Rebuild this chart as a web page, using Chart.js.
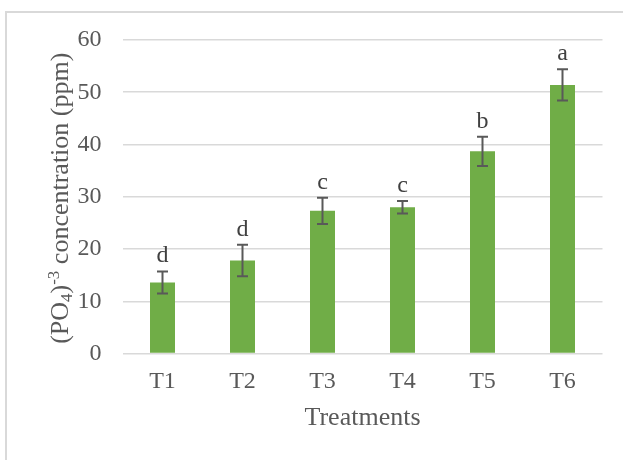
<!DOCTYPE html>
<html>
<head>
<meta charset="utf-8">
<script src="https://cdn.jsdelivr.net/npm/chart.js@4.4.0/dist/chart.umd.min.js"></script>
<style>
  html, body { margin: 0; padding: 0; background: #ffffff; }
  #wrap { position: relative; width: 623px; height: 460px; }
  canvas { display: block; }
</style>
</head>
<body>
<div id="wrap"><canvas id="chart" width="623" height="460"></canvas></div>
<script>
// Phosphate concentration per treatment, with standard error and significance group
const treatments = ['T1', 'T2', 'T3', 'T4', 'T5', 'T6'];
const concentration = [13.6, 17.8, 27.3, 28.0, 38.7, 51.4];
const errors = [2.1, 3.0, 2.5, 1.2, 2.8, 3.0];
const groupLetters = ['d', 'd', 'c', 'c', 'b', 'a'];
const yTicks = [0, 10, 20, 30, 40, 50, 60];

// Y-axis title pieces: normal text, subscript and superscript runs
const yTitleParts = [
  { text: '(PO', kind: 'normal' },
  { text: '4', kind: 'sub' },
  { text: ')', kind: 'normal' },
  { text: '-3', kind: 'sup' },
  { text: ' concentration (ppm)', kind: 'normal' }
];
const xTitle = 'Treatments';

const SERIF = '"Liberation Serif", "Times New Roman", serif';
const TEXT_GREY = '#595959';
const BAR_GREEN = '#70ad47';
const GRID_GREY = '#d9d9d9';

// White background and the light outer frame
const framePlugin = {
  id: 'frame',
  beforeDraw(chart) {
    const { ctx, width, height } = chart;
    ctx.save();
    ctx.fillStyle = '#ffffff';
    ctx.fillRect(0, 0, width, height);
    ctx.strokeStyle = GRID_GREY;
    ctx.lineWidth = 2;
    ctx.beginPath();
    ctx.moveTo(6, height);
    ctx.lineTo(6, 12);
    ctx.lineTo(width, 12);
    ctx.stroke();
    ctx.restore();
  }
};

// Error bars with caps, and the group letter above each one
const errorBarPlugin = {
  id: 'errorBars',
  afterDatasetsDraw(chart) {
    const { ctx } = chart;
    const y = chart.scales.y;
    const meta = chart.getDatasetMeta(0);
    const cap = 5.5;
    ctx.save();
    ctx.strokeStyle = TEXT_GREY;
    ctx.lineWidth = 2;
    ctx.fillStyle = '#404040';
    ctx.font = '24px ' + SERIF;
    ctx.textAlign = 'center';
    ctx.textBaseline = 'alphabetic';
    meta.data.forEach((bar, i) => {
      const cx = bar.x;
      const yHi = y.getPixelForValue(concentration[i] + errors[i]);
      const yLo = y.getPixelForValue(concentration[i] - errors[i]);
      ctx.beginPath();
      ctx.moveTo(cx, yHi);
      ctx.lineTo(cx, yLo);
      ctx.moveTo(cx - cap, yHi);
      ctx.lineTo(cx + cap, yHi);
      ctx.moveTo(cx - cap, yLo);
      ctx.lineTo(cx + cap, yLo);
      ctx.stroke();
      ctx.fillText(groupLetters[i], cx, yHi - 9);
    });
    ctx.restore();
  }
};

// Rotated y-axis title with subscript and superscript runs
const yTitlePlugin = {
  id: 'yTitle',
  afterDraw(chart) {
    const { ctx, chartArea } = chart;
    const size = 26;
    const small = Math.round(size * 0.65);
    const fontFor = (kind) => (kind === 'normal' ? size : small) + 'px ' + SERIF;
    const shiftFor = (kind) => (kind === 'sub' ? size * 0.14 : kind === 'sup' ? -size * 0.36 : 0);
    ctx.save();
    let total = 0;
    const widths = yTitleParts.map(p => {
      ctx.font = fontFor(p.kind);
      const w = ctx.measureText(p.text).width;
      total += w;
      return w;
    });
    const cy = (chartArea.top + chartArea.bottom) / 2 + 1.5;
    ctx.translate(68, cy);
    ctx.rotate(-Math.PI / 2);
    ctx.fillStyle = TEXT_GREY;
    ctx.textAlign = 'left';
    ctx.textBaseline = 'alphabetic';
    let x = -total / 2;
    yTitleParts.forEach((p, i) => {
      ctx.font = fontFor(p.kind);
      ctx.fillText(p.text, x, shiftFor(p.kind));
      x += widths[i];
    });
    ctx.restore();
  }
};

new Chart(document.getElementById('chart'), {
  type: 'bar',
  data: {
    labels: treatments,
    datasets: [{
      data: concentration,
      backgroundColor: BAR_GREEN,
      borderWidth: 0,
      categoryPercentage: 1,
      barPercentage: 0.3125
    }]
  },
  options: {
    responsive: false,
    animation: false,
    devicePixelRatio: 1,
    layout: { padding: { top: 40, right: 20.5, bottom: 0, left: 0 } },
    plugins: {
      legend: { display: false },
      tooltip: { enabled: false }
    },
    scales: {
      x: {
        grid: { display: false, drawTicks: false },
        border: { display: false },
        ticks: {
          color: TEXT_GREY,
          font: { family: SERIF, size: 24 },
          padding: 14,
          maxRotation: 0
        },
        title: {
          display: true,
          text: xTitle,
          color: TEXT_GREY,
          font: { family: SERIF, size: 26 },
          padding: { top: 0, bottom: 26 }
        },
        afterFit(scale) { scale.height = 106.5; }
      },
      y: {
        min: 0,
        max: 60,
        grid: { color: GRID_GREY, lineWidth: 1.5, drawTicks: false },
        border: { display: false },
        ticks: {
          color: TEXT_GREY,
          font: { family: SERIF, size: 24 },
          padding: 21
        },
        afterBuildTicks(scale) { scale.ticks = yTicks.map(v => ({ value: v })); },
        afterFit(scale) { scale.width = 122.5; }
      }
    }
  },
  plugins: [framePlugin, errorBarPlugin, yTitlePlugin]
});
</script>
</body>
</html>
